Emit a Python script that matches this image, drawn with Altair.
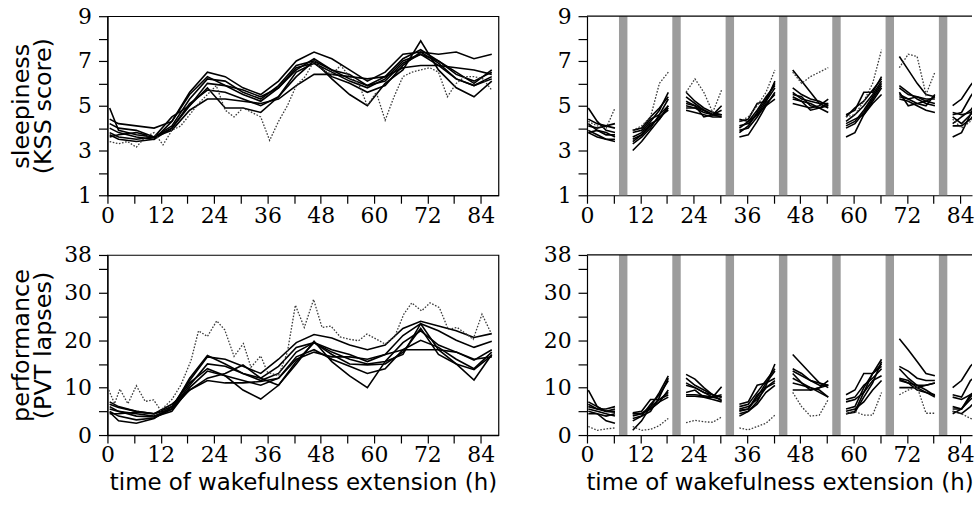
import altair as alt
import pandas as pd

# ---------------- data ----------------
# time points (h) of the smooth individual curves (left panels)
T_FIT = [0.5, 2.5, 6.5, 10.5, 14.5, 18.5, 22.5, 26.5, 30.5, 34.5, 38.5, 42.5,
         46.5, 50.5, 54.5, 58.5, 62.5, 66.5, 70.5, 74.5, 78.5, 82.5, 86.5]

KSS_FIT = {
    "k1": [4.4, 4.2, 4.1, 4.0, 4.3, 5.6, 6.5, 6.3, 5.8, 5.5, 6.1, 7.0, 7.4, 7.1, 6.6, 6.1, 6.5, 7.3, 7.4, 7.3, 7.4, 7.1, 7.3],
    "k2": [3.8, 3.6, 3.5, 3.6, 4.1, 5.3, 6.2, 6.1, 5.6, 5.3, 5.9, 6.8, 7.0, 6.6, 6.2, 5.9, 6.3, 7.1, 7.5, 7.0, 6.5, 6.0, 6.6],
    "k3": [4.9, 3.9, 3.7, 3.6, 4.0, 5.0, 6.0, 5.9, 5.5, 5.2, 5.8, 6.7, 6.9, 6.5, 6.1, 5.8, 6.2, 7.0, 7.3, 6.8, 6.2, 5.9, 6.3],
    "k4": [3.6, 3.7, 3.8, 3.6, 3.9, 4.8, 5.3, 5.3, 5.2, 5.1, 5.3, 5.9, 6.4, 6.4, 6.3, 6.2, 6.3, 6.7, 6.8, 6.8, 6.7, 6.6, 6.4],
    "k5": [4.2, 4.0, 3.9, 3.6, 4.5, 5.0, 5.8, 4.9, 4.9, 4.7, 5.4, 6.3, 7.0, 6.2, 5.5, 5.0, 6.0, 6.6, 7.9, 6.6, 5.8, 5.4, 6.1],
    "k6": [4.0, 3.8, 3.6, 3.5, 4.3, 5.5, 6.3, 5.9, 5.7, 5.4, 5.8, 6.6, 7.1, 6.6, 6.4, 5.9, 6.1, 6.9, 7.3, 7.0, 6.4, 6.1, 6.5],
    "k7": [3.7, 3.5, 3.4, 3.5, 4.0, 5.1, 5.7, 5.6, 5.3, 5.0, 5.4, 6.5, 6.9, 6.3, 6.0, 5.6, 5.9, 6.8, 7.4, 6.9, 6.2, 5.9, 6.2],
}

PVT_FIT = {
    "p1": [6.5, 5.8, 5.0, 4.5, 6.0, 11.5, 16.5, 16.0, 14.5, 13.0, 16.0, 19.5, 21.2, 20.5, 19.0, 18.0, 19.0, 22.5, 24.0, 23.0, 22.0, 20.6, 21.4],
    "p2": [5.5, 5.0, 4.5, 4.0, 5.5, 10.5, 15.0, 14.5, 13.0, 12.0, 14.5, 18.5, 19.5, 18.0, 17.0, 15.5, 17.0, 21.0, 23.5, 22.0, 20.0, 18.5, 19.8],
    "p3": [4.8, 3.0, 2.5, 3.5, 6.0, 11.0, 14.0, 12.5, 9.5, 7.6, 10.5, 15.0, 19.8, 15.5, 12.5, 10.0, 15.5, 17.0, 23.5, 18.0, 15.0, 11.6, 17.0],
    "p4": [4.5, 4.5, 4.8, 4.5, 6.5, 9.5, 11.5, 11.0, 11.0, 11.3, 12.0, 16.0, 17.5, 16.5, 16.5, 16.0, 17.0, 18.0, 18.0, 18.0, 17.5, 16.0, 16.5],
    "p5": [7.0, 6.0, 5.0, 4.5, 5.5, 12.0, 16.8, 15.0, 13.0, 11.5, 13.0, 17.5, 19.5, 17.5, 16.0, 15.0, 15.5, 19.5, 22.0, 19.0, 17.5, 15.8, 18.0],
    "p6": [6.0, 5.0, 4.0, 3.8, 5.0, 10.0, 13.5, 12.5, 11.5, 10.5, 12.0, 16.5, 18.0, 16.0, 14.5, 13.0, 14.0, 18.0, 20.0, 18.5, 16.0, 14.0, 17.5],
    "p7": [5.0, 4.0, 3.2, 3.6, 5.5, 9.5, 12.0, 13.0, 14.8, 12.0, 10.5, 15.5, 19.5, 17.0, 15.0, 14.8, 15.0, 17.5, 22.5, 17.0, 15.0, 13.8, 16.8],
}

# observed (dotted) series of one subject
T_KSS_OBS = [0.5, 2.5, 4.5, 6.5, 8.5, 10.5, 12.5, 14.5, 16.5, 18.5, 20.5, 22.5, 24.5, 26.5, 28.5,
             30.5, 32.5, 34.5, 36.5, 38.5, 40.5, 42.5, 44.5, 46.5, 48.5, 50.5, 52.5, 54.5, 56.5,
             58.5, 60.5, 62.5, 64.5, 66.5, 68.5, 70.5, 72.5, 74.5, 76.5, 78.5, 80.5, 82.5, 84.5, 86.5]
KSS_OBS = [3.4, 3.3, 3.4, 3.15, 3.6, 3.8, 3.25, 3.9, 4.1, 4.6, 5.1, 5.5, 5.9, 4.8, 4.5,
           4.9, 4.7, 4.5, 3.45, 4.3, 5.0, 5.9, 6.3, 7.0, 6.6, 6.4, 6.8, 6.3, 6.0,
           5.0, 5.6, 4.35, 5.4, 6.3, 6.5, 6.6, 6.7, 6.5, 5.4, 6.0, 6.3, 6.3, 6.2, 5.7]

T_PVT_OBS = [0.3, 1.6, 2.8, 4.6, 6.5, 8.5, 10.4, 12.0, 14.5, 16.5, 18.8, 20.5, 22.5, 24.6, 26.4,
             28.5, 30.6, 32.3, 34.5, 36.0, 38.5, 40.5, 42.3, 44.3, 46.4, 48.3, 50.3, 52.4, 54.5,
             56.5, 58.4, 60.6, 62.5, 64.7, 66.7, 68.5, 70.7, 72.6, 74.7, 76.7, 78.7, 80.8, 82.3, 84.3, 86.4]
PVT_OBS = [9.5, 6.6, 9.7, 6.6, 10.4, 7.1, 7.4, 5.2, 7.5, 10.5, 15.7, 22.0, 20.8, 24.1, 22.2,
           16.6, 19.3, 14.3, 16.7, 13.3, 12.5, 17.5, 27.4, 22.7, 28.6, 22.7, 23.0, 20.7, 20.2,
           19.9, 21.3, 20.2, 19.2, 20.9, 25.5, 27.9, 26.2, 27.9, 26.9, 22.3, 22.7, 21.3, 20.2, 25.5, 21.4]

# right panels: wake episodes between sleep opportunities
SEG_T = [[0.3, 2.3, 4.3, 6.3], [10.3, 12.3, 14.3, 16.3, 18.3], [22.3, 24.3, 26.3, 28.3, 30.3],
         [34.3, 36.3, 38.3, 40.3, 42.3], [46.3, 48.3, 50.3, 52.3, 54.3], [58.3, 60.3, 62.3, 64.3, 66.3],
         [70.3, 72.3, 74.3, 76.3, 78.3], [82.3, 84.3, 86.3, 88.3]]

SLEEP_START = [7.2, 19.2, 31.2, 43.2, 55.2, 67.2, 79.2]
SLEEP_END = [9.1, 21.1, 33.1, 45.1, 57.1, 69.1, 81.1]

KSS_SEG = {
    "s1": [[4.9, 4.3, 3.9, 3.8], [3.0, 3.4, 3.9, 4.4, 5.0], [5.6, 5.2, 4.9, 4.7, 4.6], [3.6, 3.7, 4.3, 5.0, 5.6],
           [6.6, 6.1, 5.6, 5.1, 4.9], [3.6, 3.8, 4.6, 5.2, 5.8], [7.2, 6.6, 6.0, 5.5, 5.4], [5.0, 5.3, 5.9, 6.4]],
    "s2": [[4.4, 4.2, 4.1, 4.2], [3.3, 3.6, 4.0, 4.6, 5.3], [5.4, 5.1, 4.8, 4.6, 4.5], [3.9, 4.0, 4.5, 5.1, 5.5],
           [5.8, 5.5, 5.3, 5.2, 5.0], [4.1, 4.3, 4.8, 5.4, 6.0], [5.9, 5.6, 5.3, 5.1, 5.0], [4.6, 4.7, 5.4, 6.0]],
    "s3": [[4.2, 3.9, 3.7, 3.7], [3.6, 3.8, 4.3, 4.8, 5.6], [5.0, 4.9, 4.8, 4.6, 4.6], [4.1, 4.2, 4.6, 5.2, 5.8],
           [5.5, 5.4, 5.0, 4.9, 5.1], [4.6, 4.8, 5.6, 5.6, 6.3], [5.5, 5.3, 5.1, 5.0, 5.5], [4.2, 4.5, 4.8, 5.3]],
    "s4": [[3.9, 3.7, 3.5, 3.4], [3.9, 4.0, 4.5, 4.9, 5.4], [4.8, 4.7, 4.6, 4.5, 4.5], [4.3, 4.4, 5.1, 5.2, 6.1],
           [5.4, 5.2, 5.1, 4.9, 4.7], [4.3, 4.6, 5.0, 5.5, 6.1], [5.3, 5.2, 5.0, 4.8, 4.7], [3.6, 3.8, 4.6, 5.2]],
    "s5": [[3.8, 3.6, 3.5, 3.5], [3.5, 3.7, 4.1, 4.5, 4.8], [5.1, 5.0, 4.5, 4.6, 5.0], [4.0, 4.3, 4.8, 5.4, 5.9],
           [5.1, 5.0, 4.9, 5.0, 5.3], [4.2, 4.4, 4.6, 5.1, 5.5], [5.4, 5.3, 5.4, 5.2, 5.1], [4.5, 4.2, 4.6, 5.0]],
    "s6": [[4.1, 4.0, 4.1, 4.0], [3.8, 3.9, 4.4, 4.6, 5.0], [5.2, 5.0, 4.8, 4.6, 4.8], [4.4, 4.3, 4.6, 5.0, 5.3],
           [5.6, 5.3, 5.2, 5.1, 5.1], [4.5, 4.9, 5.2, 5.7, 6.2], [5.8, 5.5, 5.4, 5.3, 5.3], [4.1, 4.1, 4.4, 4.9]],
    "s7": [[3.8, 3.9, 3.8, 3.6], [3.4, 3.7, 4.2, 4.4, 4.9], [4.9, 4.9, 4.7, 4.6, 4.6], [3.8, 4.1, 4.7, 5.3, 6.0],
           [5.3, 5.2, 4.8, 4.9, 5.0], [4.0, 4.2, 4.7, 5.3, 5.9], [5.6, 5.0, 5.1, 5.2, 5.4], [4.7, 4.6, 4.7, 5.1]],
}
KSS_SEG_OBS = [[4.3, 4.1, 4.0, 4.9], [3.9, 4.1, 4.5, 6.0, 6.5], [5.6, 6.2, 5.6, 4.7, 5.7], [4.3, 4.5, 5.0, 5.6, 6.6],
               [6.5, 6.0, 6.3, 6.5, 6.7], [4.5, 4.6, 5.2, 6.0, 7.5], [6.7, 7.3, 7.2, 5.5, 6.5], [4.4, 4.0, 4.3, 4.8]]

PVT_SEG = {
    "s1": [[9.5, 6.0, 5.0, 4.8], [1.0, 3.0, 6.0, 9.0, 12.5], [12.8, 11.8, 10.0, 8.5, 7.2], [4.0, 5.0, 7.0, 10.5, 15.0],
           [17.0, 15.0, 13.0, 11.0, 10.0], [4.5, 5.0, 9.0, 13.0, 16.0], [20.3, 18.0, 15.5, 13.0, 12.5], [10.0, 11.5, 14.5, 16.5]],
    "s2": [[7.0, 6.0, 5.0, 5.5], [3.0, 4.0, 6.5, 8.5, 11.5], [12.0, 10.5, 9.5, 8.5, 8.0], [5.0, 5.5, 8.0, 11.0, 13.5],
           [14.0, 13.0, 11.5, 10.5, 10.5], [5.5, 6.0, 10.0, 13.0, 15.0], [14.5, 13.5, 12.0, 11.5, 11.5], [8.5, 8.0, 11.5, 13.0]],
    "s3": [[6.0, 5.5, 5.5, 6.0], [4.5, 4.5, 6.0, 7.5, 9.0], [10.5, 10.0, 9.0, 8.0, 10.2], [6.5, 7.0, 10.5, 11.0, 12.0],
           [13.0, 11.0, 9.5, 10.0, 11.5], [8.5, 9.5, 13.0, 13.0, 14.5], [14.0, 12.0, 10.5, 9.5, 8.3], [8.0, 7.5, 8.5, 9.5]],
    "s4": [[5.0, 4.5, 3.0, 2.5], [4.7, 5.0, 7.5, 7.5, 8.5], [8.5, 8.5, 8.3, 8.0, 8.5], [5.5, 6.0, 7.5, 10.0, 11.0],
           [11.0, 10.5, 10.0, 9.5, 8.0], [7.5, 8.0, 10.5, 12.0, 14.0], [12.0, 11.5, 10.0, 9.0, 8.0], [6.0, 5.5, 8.5, 10.0]],
    "s5": [[5.5, 5.0, 4.5, 4.0], [4.0, 4.5, 5.5, 7.0, 9.5], [9.0, 9.5, 8.0, 8.0, 7.5], [6.0, 6.5, 9.0, 11.5, 14.0],
           [9.5, 9.5, 9.5, 10.0, 10.5], [5.0, 5.5, 7.0, 9.5, 11.5], [11.5, 11.0, 10.5, 10.5, 11.0], [5.0, 4.5, 6.0, 8.0]],
    "s6": [[6.5, 5.5, 5.0, 5.0], [3.5, 4.0, 5.0, 8.0, 12.0], [8.2, 8.2, 8.0, 7.5, 7.0], [5.2, 5.5, 8.5, 10.0, 11.5],
           [12.0, 11.0, 10.0, 9.0, 8.0], [7.0, 7.5, 9.0, 11.5, 12.5], [10.0, 10.0, 10.0, 10.5, 11.0], [4.5, 5.5, 7.5, 9.0]],
    "s7": [[4.5, 4.5, 4.0, 4.5], [4.5, 4.6, 5.5, 7.0, 8.0], [11.0, 10.0, 9.0, 8.5, 8.0], [4.5, 5.0, 6.5, 9.0, 10.5],
           [13.5, 12.5, 11.5, 11.0, 10.5], [4.5, 4.8, 8.0, 11.0, 15.5], [11.8, 11.0, 9.5, 9.0, 8.5], [5.5, 5.5, 8.0, 10.0]],
}
PVT_SEG_OBS = [[1.8, 1.0, 1.3, 1.5], [1.8, 1.0, 1.2, 2.0, 3.5], [2.6, 3.1, 2.8, 2.7, 3.8], [1.5, 1.1, 1.8, 2.5, 4.2],
               [9.0, 6.0, 4.0, 4.2, 7.5], [4.5, 5.0, 4.2, 4.2, 9.0], [8.5, 9.5, 10.2, 4.6, 4.6], [5.0, 4.5, 3.5, 3.0]]

X_TICKS = [0, 6, 12, 18, 24, 30, 36, 42, 48, 54, 60, 66, 72, 78, 84]
KSS_TICKS = [1, 2, 3, 4, 5, 6, 7, 8, 9]
PVT_TICKS = [0, 5, 10, 15, 20, 25, 30, 35, 38]

# ---------------- tables ----------------
def fit_table(d):
    rows = []
    for name, vals in d.items():
        for t, v in zip(T_FIT, vals):
            rows.append({"key": name, "t": t, "v": v})
    return pd.DataFrame(rows)


def obs_table(ts, vs):
    return pd.DataFrame({"key": "obs", "t": ts, "v": vs})


def seg_table(d):
    rows = []
    for name, segs in d.items():
        for si, (ts, vs) in enumerate(zip(SEG_T, segs)):
            for t, v in zip(ts, vs):
                rows.append({"key": f"{name}-{si}", "t": t, "v": v})
    return pd.DataFrame(rows)


sleep_df = pd.DataFrame({"start": SLEEP_START, "end": SLEEP_END})

# ---------------- geometry ----------------
W_L, W_R = 393, 387
X_MAX_L = 88.0
X_MAX_R = 88.0 * W_R / W_L
H_T, H_B = 180, 181


def make_panel(fit_df, obs_df, ydom, yticks, ylabel_expr, width, height, xmax,
               ytitle=None, xtitle=None, right=False, ytitle_pad=10):
    xkw = dict(values=X_TICKS, labelExpr="datum.value % 12 == 0 ? datum.label : ''",
               labelFlush=False, labelOverlap=False, tickSize=8, labelPadding=2)
    if xtitle:
        xkw.update(title=xtitle, titleFontSize=23, titlePadding=6)
    else:
        xkw.update(title=None)
    ykw = dict(values=yticks, labelExpr=ylabel_expr, labelFlush=False, labelOverlap=False,
               tickSize=9, labelPadding=7)
    if ytitle:
        ykw.update(title=ytitle, titleFontSize=24, titleLineHeight=22, titlePadding=ytitle_pad)
    else:
        ykw.update(title=None)
    xscale = alt.Scale(domain=[0, xmax], nice=False, zero=False)
    xenc = alt.X("t:Q", scale=xscale, axis=alt.Axis(**xkw))
    yenc = alt.Y("v:Q", scale=alt.Scale(domain=ydom, nice=False, zero=False), axis=alt.Axis(**ykw))

    fit = alt.Chart(fit_df).mark_line(color="black", strokeWidth=1.6, clip=True).encode(
        x=xenc, y=yenc, detail="key:N")
    obs = alt.Chart(obs_df).mark_line(color="#3a3a3a", strokeWidth=1.3, strokeDash=[1.6, 1.6], clip=True).encode(
        x=xenc, y=yenc, detail="key:N")
    if right:
        bars = alt.Chart(sleep_df).mark_rect(color="#9c9c9c").encode(
            x=alt.X("start:Q", scale=xscale, axis=alt.Axis(**xkw)),
            x2="end:Q", y=alt.value(0), y2=alt.value(height))
        top = alt.Chart(pd.DataFrame({"a": [0]})).mark_rule(color="black", strokeWidth=1.2).encode(
            x=alt.value(0), x2=alt.value(width), y=alt.value(0))
        layers = [bars, fit, obs, top]
    else:
        layers = [fit, obs]
    ch = alt.layer(*layers).properties(width=width, height=height)
    if right:
        ch = ch.properties(view=alt.ViewBackground(stroke="transparent"))
    return ch


KSS_LAB = "datum.value % 2 == 1 ? datum.label : ''"
PVT_LAB = "(datum.value % 10 == 0 || datum.value == 38) ? datum.label : ''"
XT = "time of wakefulness extension (h)"

tl = make_panel(fit_table(KSS_FIT), obs_table(T_KSS_OBS, KSS_OBS), [1, 9], KSS_TICKS, KSS_LAB,
                W_L, H_T, X_MAX_L, ytitle=["sleepiness", "(KSS score)"], ytitle_pad=22)
tr = make_panel(seg_table(KSS_SEG), seg_table({"obs": KSS_SEG_OBS}), [1, 9], KSS_TICKS, KSS_LAB,
                W_R, H_T, X_MAX_R, right=True)
bl = make_panel(fit_table(PVT_FIT), obs_table(T_PVT_OBS, PVT_OBS), [0, 38], PVT_TICKS, PVT_LAB,
                W_L, H_B, X_MAX_L, ytitle=["performance", "(PVT lapses)"], xtitle=XT, ytitle_pad=8)
br = make_panel(seg_table(PVT_SEG), seg_table({"obs": PVT_SEG_OBS}), [0, 38], PVT_TICKS, PVT_LAB,
                W_R, H_B, X_MAX_R, xtitle=XT, right=True)

chart = alt.concat(tl, tr, bl, br, columns=2, spacing={"row": 60, "column": 89}, bounds="flush").properties(
    padding={"left": 9, "top": 3, "right": 0, "bottom": 0}
).configure_axis(
    domainColor="black", domainWidth=1.2, tickColor="black", tickWidth=1.2,
    labelFont="DejaVu Serif", labelFontSize=22, labelColor="black",
    titleFont="DejaVu Sans", titleFontWeight="normal", titleColor="black", grid=False
).configure_view(stroke="black", strokeWidth=1.2)

chart.save("out.html", embed_options={"renderer": "svg", "actions": False})
